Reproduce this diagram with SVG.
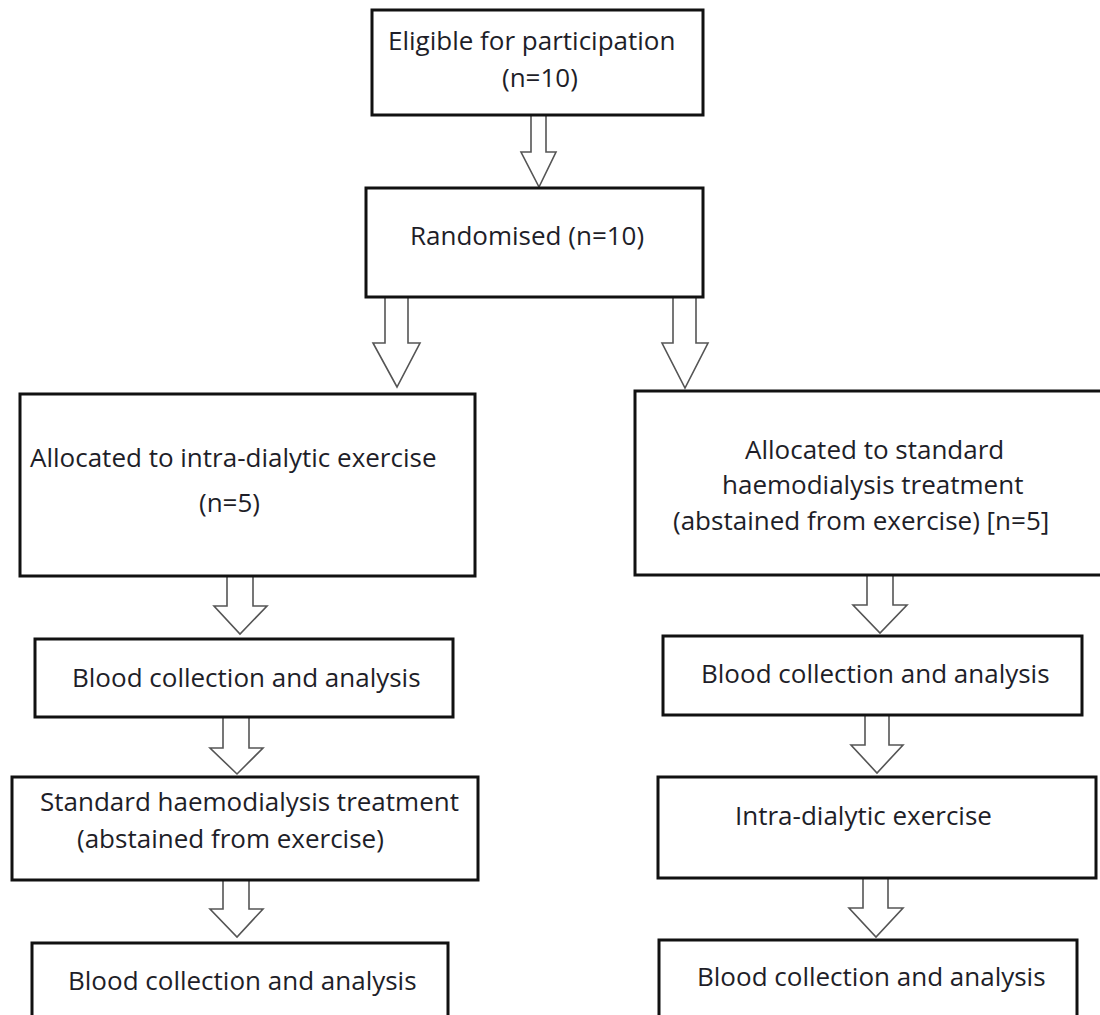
<svg xmlns="http://www.w3.org/2000/svg" width="1100" height="1015" viewBox="0 0 1100 1015">
<style>
.box{fill:#fff;stroke:#111;stroke-width:3}
.arr{fill:#fff;stroke:#555;stroke-width:1.6;stroke-linejoin:miter}
text{font-family:"Open Sans","DejaVu Sans",sans-serif;font-size:26px;fill:#1e1e28}
</style>
<rect width="1100" height="1015" fill="#fff"/>
<g id="connectors">
<polyline class="arr" points="531,115 531,152 521,152 539,187 556,152 546,152 546,115"/>
<polyline class="arr" points="385,297 385,343 373,343 397,387 420,343 408,343 408,297"/>
<polyline class="arr" points="673,297 673,343 662,343 685,388 708,343 696,343 696,297"/>
<polyline class="arr" points="227,576 227,606 214,606 240,634 267,606 253,606 253,576"/>
<polyline class="arr" points="867,575 867,605 853,605 880,633 907,605 893,605 893,575"/>
<polyline class="arr" points="223,717 223,748 210,748 237,774 263,748 249,748 249,717"/>
<polyline class="arr" points="865,715 865,745 851,745 877,773 903,745 889,745 889,715"/>
<polyline class="arr" points="223,880 223,909 210,909 237,937 263,909 249,909 249,880"/>
<polyline class="arr" points="863,878 863,908 849,908 876,937 903,908 888,908 888,878"/>
</g>
<g id="eligible">
<rect class="box" x="372" y="10" width="331" height="105"/>
<text x="388" y="50">Eligible for participation</text>
<text x="502" y="87">(n=10)</text>
</g>
<g id="randomised">
<rect class="box" x="366" y="188" width="337" height="109"/>
<text x="410" y="245">Randomised (n=10)</text>
</g>
<g id="alloc-exercise">
<rect class="box" x="20" y="394" width="455" height="182"/>
<text x="30" y="467">Allocated to intra-dialytic exercise</text>
<text x="199" y="512">(n=5)</text>
</g>
<g id="alloc-standard">
<rect class="box" x="635" y="391" width="480" height="184"/>
<text x="745" y="459">Allocated to standard</text>
<text x="722" y="494">haemodialysis treatment</text>
<text x="673" y="530">(abstained from exercise) [n=5]</text>
</g>
<g id="blood-left-1">
<rect class="box" x="35" y="639" width="418" height="78"/>
<text x="72" y="687">Blood collection and analysis</text>
</g>
<g id="blood-right-1">
<rect class="box" x="663" y="636" width="419" height="79"/>
<text x="701" y="683">Blood collection and analysis</text>
</g>
<g id="standard-left">
<rect class="box" x="12" y="777" width="466" height="103"/>
<text x="40" y="811">Standard haemodialysis treatment</text>
<text x="77" y="848">(abstained from exercise)</text>
</g>
<g id="exercise-right">
<rect class="box" x="658" y="777" width="438" height="101"/>
<text x="735" y="825">Intra-dialytic exercise</text>
</g>
<g id="blood-left-2">
<rect class="box" x="32" y="943" width="416" height="90"/>
<text x="68" y="990">Blood collection and analysis</text>
</g>
<g id="blood-right-2">
<rect class="box" x="659" y="940" width="418" height="90"/>
<text x="697" y="986">Blood collection and analysis</text>
</g>
</svg>
